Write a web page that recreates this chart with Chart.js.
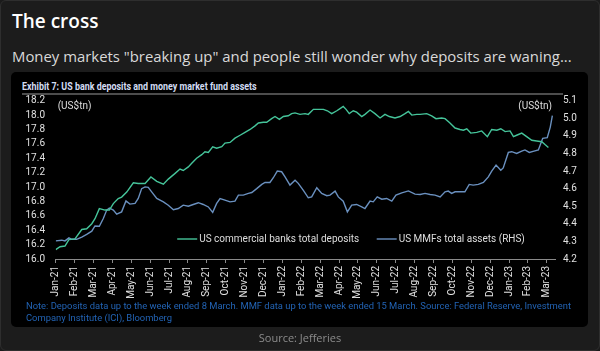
<!DOCTYPE html>
<html><head><meta charset="utf-8">
<script src="https://cdn.jsdelivr.net/npm/chart.js@4"></script>
<style>
html,body{margin:0;padding:0;background:#1b1b1b;width:600px;height:351px;overflow:hidden;}
#card{position:absolute;left:0;top:0;width:598px;height:349px;border:1px solid #2e2e2e;border-radius:6px;background:#1c1c1c;}
#title{position:absolute;left:12px;top:8px;font:600 19px "Open Sans",sans-serif;color:#fff;white-space:nowrap;}
#sub{position:absolute;left:12px;top:46px;font:400 14.9px "Open Sans",sans-serif;color:#d9d9d9;white-space:nowrap;}
#panel{position:absolute;left:11px;top:72px;width:577px;height:255px;background:#000;border-radius:5px;}
#exh{position:absolute;left:22px;top:80px;font:bold 11px Roboto,sans-serif;color:#d3dcf3;white-space:nowrap;transform:scaleX(0.81);transform-origin:0 50%;}
#rule{position:absolute;left:22px;top:93px;width:541px;height:2px;background:#4d4d4d;}
canvas{position:absolute;left:0;top:80px;}
#note{position:absolute;left:26px;top:300px;font:9.4px Roboto,sans-serif;color:#2263b4;line-height:12px;white-space:nowrap;}
#src{position:absolute;left:0;width:600px;top:330px;text-align:center;font:11px "Open Sans",sans-serif;color:#8c8c8c;}
</style></head>
<body>
<div id="card"></div>
<div id="title">The cross</div>
<div id="sub">Money markets "breaking up" and people still wonder why deposits are waning...</div>
<div id="panel"></div>
<div id="exh">Exhibit 7: US bank deposits and money market fund assets</div>
<div id="rule"></div>
<canvas id="c" width="600" height="226"></canvas>
<div id="note">Note: Deposits data up to the week ended 8 March. MMF data up to the week ended 15 March. Source: Federal Reserve, Investment<br>Company Institute (ICI), Bloomberg</div>
<div id="src">Source: Jefferies</div>
<script>
// Month tick labels
const monthLabels = ["Jan-21","Feb-21","Mar-21","Apr-21","May-21","Jun-21","Jul-21","Aug-21","Sep-21","Oct-21","Nov-21","Dec-21",
  "Jan-22","Feb-22","Mar-22","Apr-22","May-22","Jun-22","Jul-22","Aug-22","Sep-22","Oct-22","Nov-22","Dec-22",
  "Jan-23","Feb-23","Mar-23"];
// Time of each observation, in months since start of Jan-21
const depT = [0,0.23,0.49,0.70,1.02,1.38,1.64,1.91,2.08,2.31,2.61,2.84,3.05,3.31,3.49,3.76,4.11,4.37,4.73,5.04,5.35,5.70,5.96,6.32,6.58,
  6.75,7.02,7.20,7.46,7.73,7.90,8.08,8.31,8.52,8.79,8.96,9.23,9.49,9.76,10.02,10.29,10.55,10.73,10.99,11.17,11.43,11.61,11.84,12.05,12.31,12.49,12.67,12.93,
  13.20,13.37,13.64,13.90,14.17,14.38,14.61,14.88,15.05,15.22,15.37,15.54,15.75,15.93,16.20,16.37,16.64,16.90,17.17,17.43,17.66,17.96,18.23,18.49,18.67,18.85,19.11,19.29,
  19.64,19.90,20.13,20.43,20.61,20.87,21.14,21.40,21.58,21.76,21.97,22.29,22.55,22.85,23.08,23.35,23.56,23.79,24.05,24.23,24.40,24.67,24.93,25.20,25.46,25.73,25.90,26.08];
// US commercial banks total deposits (US$tn)
const depV = [16.13,16.17,16.18,16.27,16.28,16.41,16.42,16.49,16.56,16.70,16.68,16.68,16.77,16.84,16.86,16.93,17.06,17.05,17.05,17.14,17.08,17.04,17.11,17.19,17.25,
  17.23,17.28,17.33,17.40,17.45,17.49,17.48,17.56,17.54,17.56,17.61,17.62,17.68,17.72,17.76,17.80,17.85,17.89,17.90,17.90,17.95,17.98,17.94,17.98,17.99,18.02,18.03,18.01,
  18.02,18.01,18.08,18.08,18.08,18.06,18.02,18.06,18.09,18.12,18.08,18.02,18.06,18.04,17.98,18.01,18.07,18.02,17.96,18.01,17.98,17.96,17.98,18.02,18.05,18.00,18.01,18.01,
  18.02,17.99,17.95,17.96,17.95,17.89,17.82,17.80,17.79,17.81,17.75,17.76,17.78,17.70,17.80,17.79,17.81,17.77,17.78,17.70,17.72,17.75,17.70,17.65,17.64,17.63,17.59,17.55];
const mmfT = [0,0.32,0.49,0.70,0.85,1.11,1.38,1.64,1.91,2.08,2.31,2.52,2.70,2.84,3.05,3.23,3.49,3.72,3.93,4.20,4.37,4.55,4.73,4.90,5.08,5.35,5.70,5.96,6.23,6.49,
  6.75,7.02,7.28,7.55,7.81,8.08,8.31,8.52,8.70,8.96,9.23,9.49,9.67,9.93,10.20,10.38,10.64,10.91,11.08,11.34,11.52,11.73,11.96,12.14,12.40,12.67,12.84,
  13.11,13.37,13.55,13.82,14.08,14.35,14.52,14.79,14.96,15.22,15.44,15.67,15.93,16.20,16.37,16.64,16.81,17.02,17.26,17.52,17.79,18.01,18.32,18.67,19.02,
  19.29,19.55,19.82,20.08,20.35,20.61,20.78,20.96,21.14,21.40,21.66,21.89,22.10,22.37,22.64,22.90,23.08,23.31,23.56,23.69,23.96,24.14,24.40,24.67,24.84,25.07,25.32,25.55,25.78,26.02,26.18,26.29];
// US MMFs total assets (US$tn, RHS)
const mmfV = [4.303,4.307,4.303,4.32,4.312,4.312,4.325,4.34,4.358,4.388,4.386,4.43,4.478,4.49,4.478,4.455,4.468,4.53,4.512,4.516,4.544,4.60,4.61,4.607,4.582,4.544,4.525,4.506,4.48,4.487,
  4.506,4.50,4.51,4.52,4.51,4.496,4.465,4.516,4.544,4.535,4.525,4.529,4.563,4.563,4.573,4.578,4.60,4.624,4.635,4.635,4.662,4.70,4.696,4.667,4.62,4.648,4.63,
  4.59,4.548,4.553,4.605,4.573,4.56,4.563,4.586,4.553,4.529,4.468,4.506,4.51,4.496,4.487,4.529,4.525,4.553,4.54,4.544,4.529,4.563,4.576,4.587,4.569,
  4.567,4.573,4.567,4.563,4.553,4.582,4.586,4.573,4.582,4.582,4.582,4.624,4.62,4.624,4.635,4.667,4.70,4.734,4.705,4.718,4.806,4.81,4.80,4.813,4.82,4.806,4.813,4.82,4.886,4.89,4.95,5.015];
const leftTicks = [16.0,16.2,16.4,16.6,16.8,17.0,17.2,17.4,17.6,17.8,18.0,18.2];
const rightTicks = [4.2,4.3,4.4,4.5,4.6,4.7,4.8,4.9,5.0,5.1];
const seriesNames = ["US commercial banks total deposits","US MMFs total assets (RHS)"];
const unitLabel = "(US$tn)";

const GREEN = '#45c49a', BLUE = '#6a90bf';
const tickFont = {family: 'Roboto, sans-serif', size: 10};

const overlay = {
  id: 'overlay',
  afterDraw(chart) {
    const ctx = chart.ctx, a = chart.chartArea;
    ctx.save();
    ctx.font = '10px Roboto, sans-serif';
    ctx.fillStyle = '#dedede';
    ctx.textBaseline = 'middle';
    ctx.textAlign = 'left';
    ctx.fillText(unitLabel, a.left + 2, a.top + 5.5);
    ctx.textAlign = 'right';
    ctx.fillText(unitLabel, a.right - 3, a.top + 5.5);
    // legend
    const ly = a.bottom - 20;
    ctx.lineWidth = 1.4;
    const items = [[GREEN, a.left + 121.5], [BLUE, a.left + 321]];
    items.forEach(([col, x0], i) => {
      ctx.strokeStyle = col;
      ctx.beginPath(); ctx.moveTo(x0, ly); ctx.lineTo(x0 + 20, ly); ctx.stroke();
      ctx.textAlign = 'left';
      ctx.fillStyle = '#dedede';
      ctx.fillText(seriesNames[i], x0 + 22, ly);
    });
    ctx.restore();
  }
};

new Chart(document.getElementById('c'), {
  type: 'line',
  data: {
    datasets: [
      {label: seriesNames[0], data: depT.map((t, i) => ({x: t, y: depV[i]})), yAxisID: 'yL',
       borderColor: GREEN, borderWidth: 1.4, pointRadius: 0, tension: 0, fill: false},
      {label: seriesNames[1], data: mmfT.map((t, i) => ({x: t, y: mmfV[i]})), yAxisID: 'yR',
       borderColor: BLUE, borderWidth: 1.4, pointRadius: 0, tension: 0, fill: false}
    ]
  },
  options: {
    responsive: false, animation: false, devicePixelRatio: 1,
    layout: {padding: {top: 20.7, left: 0, right: 0, bottom: 0}},
    plugins: {legend: {display: false}, tooltip: {enabled: false}},
    scales: {
      x: {
        type: 'linear', min: 0, max: 26.43,
        afterBuildTicks: s => { s.ticks = monthLabels.map((_, i) => ({value: i})); },
        afterFit: s => { s.height = 47; },
        grid: {display: true, drawOnChartArea: false, drawTicks: true, tickLength: 4, color: '#8a8a8a'},
        border: {display: true, color: '#8a8a8a', width: 1},
        ticks: {autoSkip: false, minRotation: 90, maxRotation: 90, padding: 3, color: '#e0e0e0',
          font: tickFont, callback: v => monthLabels[v]}
      },
      yL: {
        position: 'left', min: 16.0, max: 18.2,
        afterBuildTicks: s => { s.ticks = leftTicks.map(v => ({value: v})); },
        afterFit: s => { s.width = 55.7; },
        grid: {display: false, drawTicks: false}, border: {display: false},
        ticks: {autoSkip: false, padding: 10.7, color: '#e0e0e0', font: tickFont, callback: v => v.toFixed(1)}
      },
      yR: {
        position: 'right', min: 4.2, max: 5.1,
        afterBuildTicks: s => { s.ticks = rightTicks.map(v => ({value: v})); },
        afterFit: s => { s.width = 45; },
        grid: {display: false, drawTicks: false}, border: {display: false},
        ticks: {autoSkip: false, padding: 8, color: '#e0e0e0', font: tickFont, callback: v => v.toFixed(1)}
      }
    }
  },
  plugins: [overlay]
});
</script>
</body></html>
